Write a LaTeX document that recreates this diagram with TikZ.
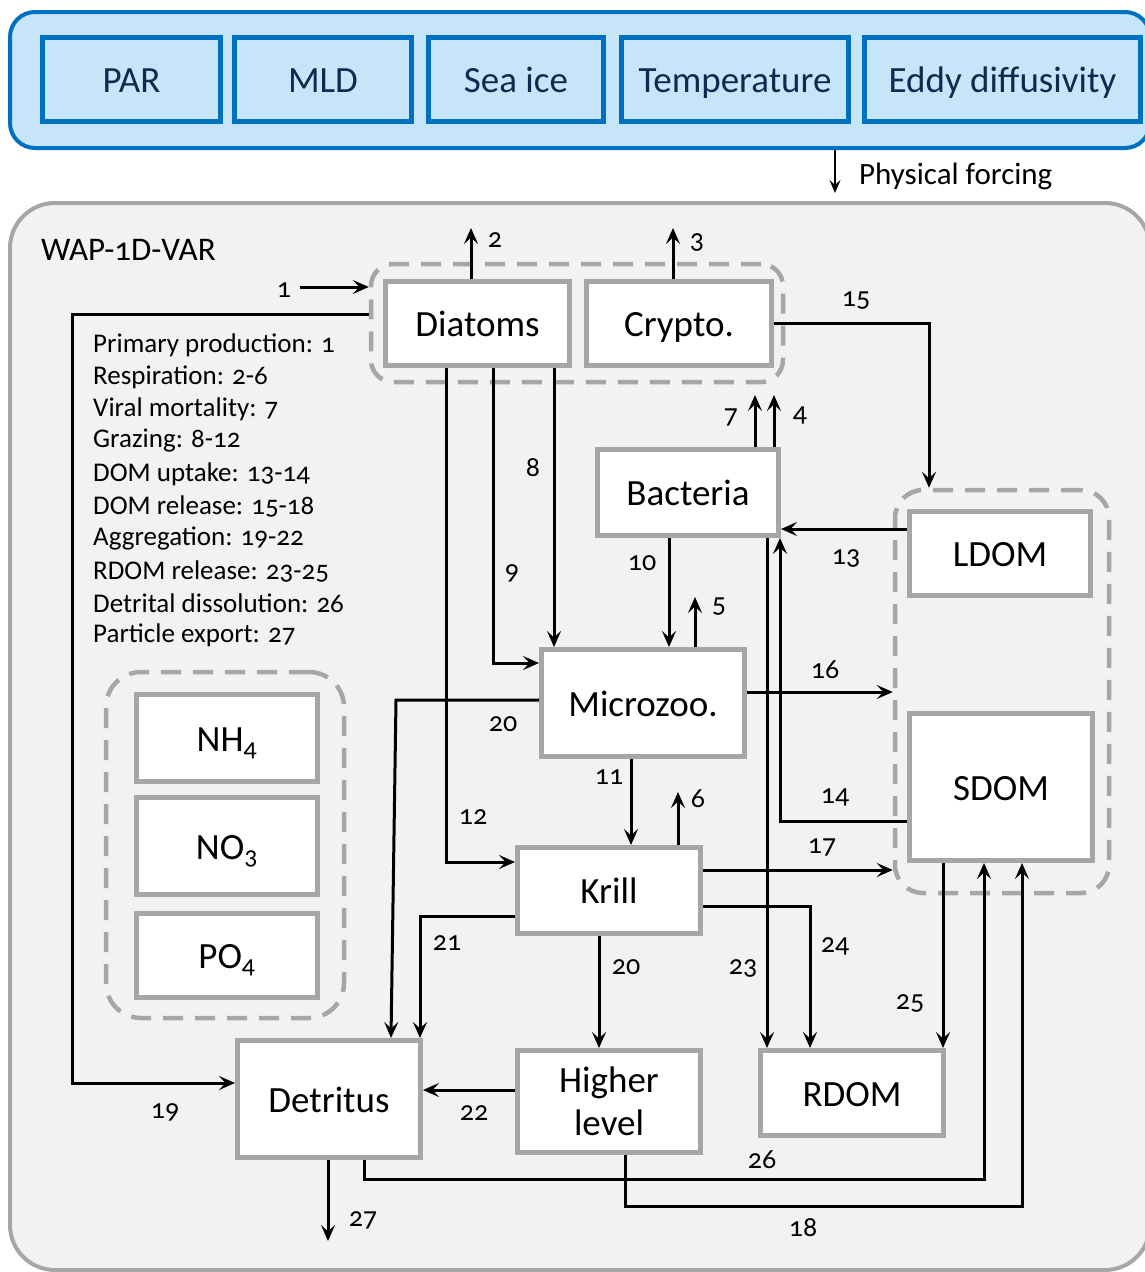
\documentclass[tikz,border=0pt]{standalone}
\usepackage{fontspec}
\setmainfont{Carlito}[Numbers=OldStyle]
\usetikzlibrary{arrows.meta}
\definecolor{bluebd}{HTML}{0070C0}
\definecolor{bluefill}{HTML}{C6E5F9}
\definecolor{navy}{HTML}{10294F}
\definecolor{graybd}{HTML}{A6A6A6}
\definecolor{grayfill}{HTML}{F2F2F2}
\begin{document}
\begin{tikzpicture}[x=1pt,y=-1pt,
 arr/.style={line width=3pt, -{Stealth[length=16pt,width=14pt,inset=6.5pt]}},
 fixh/.style={text height=28pt, text depth=2pt},
 box/.style={draw=graybd, fill=white, line width=5pt, inner sep=0pt, font=\fontsize{37}{42}\selectfont, align=center},
 fbox/.style={draw=bluebd, fill=bluefill, line width=5pt, inner sep=0pt, text=navy, font=\fontsize{37}{42}\selectfont, fixh},
 grp/.style={draw=graybd, line width=4.5pt, dash pattern=on 20pt off 12pt, rounded corners=22pt, inner sep=0pt},
 num/.style={font=\fontsize{28}{32}\selectfont, inner sep=0pt},
 leg/.style={font=\fontsize{27}{30}\selectfont, anchor=west, inner sep=0pt},
]
\useasboundingbox (0,0) rectangle (1145,1272);
\clip (0,0) rectangle (1145,1272);
% physical forcing panel
\node[draw=bluebd, fill=bluefill, line width=4pt, rounded corners=25pt, minimum width=1140pt, minimum height=136pt, inner sep=0pt] (forc) at (580,80) {};
\node[fbox, minimum width=178pt, minimum height=84pt] (par) at (131.5,79.5) {PAR};
\node[fbox, minimum width=177pt, minimum height=84pt] (mld) at (323,79.5) {MLD};
\node[fbox, minimum width=175pt, minimum height=84pt] (ice) at (516,79.5) {Sea ice};
\node[fbox, minimum width=227pt, minimum height=84pt] (tem) at (735,79.5) {Temperature};
\node[fbox, minimum width=276pt, minimum height=84pt] (edd) at (1002.5,79.5) {Eddy diffusivity};
\coordinate (pfend) at (835,193);
\draw[line width=2.5pt, -{Stealth[length=13pt,width=11pt,inset=5pt]}] (835,0 |- forc.south) -- (pfend);
\node[font=\fontsize{31}{36}\selectfont, anchor=west, inner sep=0pt] (pf) at (859,176) {Physical forcing};
% model panel
\node[draw=graybd, fill=grayfill, line width=4pt, rounded corners=45pt, minimum width=1140pt, minimum height=1067pt, inner sep=0pt] (model) at (580,736.5) {};
\node[font=\fontsize{33}{38}\selectfont, anchor=west, inner sep=0pt] (wap) at (41,250) {WAP-1D-VAR};
% groups
\node[grp, minimum width=412pt, minimum height=118pt] (phyto) at (577,323) {};
\node[grp, rounded corners=28pt, minimum width=214pt, minimum height=403pt] (domg) at (1002,691.5) {};
\node[grp, rounded corners=35pt, minimum width=238pt, minimum height=346pt] (nutg) at (225,845) {};
% boxes
\node[box, fixh, minimum width=184pt, minimum height=84pt] (dia) at (477.5,323.5) {Diatoms};
\node[box, fixh, minimum width=185pt, minimum height=84pt] (cry) at (679,323.5) {Crypto.};
\node[box, fixh, minimum width=181pt, minimum height=86pt] (bac) at (688,492.5) {Bacteria};
\node[box, fixh, minimum width=203pt, minimum height=107pt] (mic) at (643,703) {Microzoo.};
\node[box, fixh, minimum width=183pt, minimum height=86pt] (kri) at (609,890.5) {Krill};
\node[box, minimum width=183pt, minimum height=102pt, font=\fontsize{37}{43}\selectfont] (hig) at (609,1101.5) {Higher\\level};
\node[box, fixh, minimum width=183pt, minimum height=85pt] (rdom) at (852,1093) {RDOM};
\node[box, fixh, minimum width=183pt, minimum height=117pt] (det) at (329,1099) {Detritus};
\node[box, fixh, minimum width=181pt, minimum height=84pt] (ldom) at (1000,553.5) {LDOM};
\node[box, fixh, minimum width=183pt, minimum height=147pt] (sdom) at (1001,787) {SDOM};
\node[box, fixh, minimum width=181pt, minimum height=87pt] (nh) at (227,738) {NH\textsubscript{4}};
\node[box, fixh, minimum width=181pt, minimum height=97pt] (no) at (227,846) {NO\textsubscript{3}};
\node[box, fixh, minimum width=181pt, minimum height=84pt] (po) at (227,955.5) {PO\textsubscript{4}};
% legend
\node[leg] (l1) at (93,345) {Primary production: 1};
\node[leg] (l2) at (93,377) {Respiration: 2-6};
\node[leg] (l3) at (93,409) {Viral mortality: 7};
\node[leg] (l4) at (93,441) {Grazing: 8-12};
\node[leg] (l5) at (93,474) {DOM uptake: 13-14};
\node[leg] (l6) at (93,506) {DOM release: 15-18};
\node[leg] (l7) at (93,538) {Aggregation: 19-22};
\node[leg] (l8) at (93,571) {RDOM release: 23-25};
\node[leg] (l9) at (93,603) {Detrital dissolution: 26};
\node[leg] (l10) at (93,635) {Particle export: 27};
% free ends
\coordinate (s1) at (300,287);
\coordinate (e2) at (471,228);
\coordinate (e3) at (673,228);
\coordinate (e7) at (755,395);
\coordinate (e4) at (774,395);
\coordinate (e5) at (695,597);
\coordinate (e6) at (678,792);
\coordinate (e27) at (328,1241);
% connectors
\draw[arr] (s1) -- (phyto.west |- s1);
\draw[arr] (471,0 |- dia.north) -- (e2);
\draw[arr] (673,0 |- cry.north) -- (e3);
\draw[arr] (phyto.west |- 0,314) -- (72,314) -- (72,1083) -- (det.west |- 0,1083);
\draw[arr] (446,0 |- dia.south) -- (446,862) -- (kri.west |- 0,862);
\draw[arr] (493,0 |- dia.south) -- (493,663) -- (mic.west |- 0,663);
\draw[arr] (554,0 |- dia.south) -- (554,0 |- mic.north);
\draw[arr] (cry.east |- 0,323) -- (929,323) -- (929,0 |- domg.north);
\draw[arr] (755,0 |- bac.north) -- (e7);
\draw[arr] (774,0 |- bac.north) -- (e4);
\draw[arr] (669,0 |- bac.south) -- (669,0 |- mic.north);
\draw[arr] (695,0 |- mic.north) -- (e5);
\draw[arr] (ldom.west |- 0,529) -- (bac.east |- 0,529);
\draw[arr] (sdom.west |- 0,821) -- (780,821) -- (780,0 |- bac.south);
\draw[arr] (767,0 |- bac.south) -- (767,0 |- rdom.north);
\draw[arr] (mic.east |- 0,692) -- (domg.west |- 0,692);
\draw[arr] (mic.west |- 0,700) -- (396,700) -- (391,0 |- det.north);
\draw[arr] (631,0 |- mic.south) -- (631,0 |- kri.north);
\draw[arr] (678,0 |- kri.north) -- (e6);
\draw[arr] (kri.east |- 0,870) -- (domg.west |- 0,870);
\draw[arr] (kri.east |- 0,906) -- (810,906) -- (810,0 |- rdom.north);
\draw[arr] (kri.west |- 0,916) -- (420,916) -- (420,0 |- det.north);
\draw[arr] (599,0 |- kri.south) -- (599,0 |- hig.north);
\draw[arr] (943,0 |- sdom.south) -- (943,0 |- rdom.north);
\draw[arr] (hig.west |- 0,1090) -- (det.east |- 0,1090);
\draw[arr] (328,0 |- det.south) -- (e27);
\draw[arr] (364,0 |- det.south) -- (364,1179) -- (984,1179) -- (984,0 |- sdom.south);
\draw[arr] (625,0 |- hig.south) -- (625,1206) -- (1022,1206) -- (1022,0 |- sdom.south);
% numbers
\node[num] (n1) at (284,290) {1};
\node[num] (n2) at (495,240) {2};
\node[num] (n3) at (697,242) {3};
\node[num] (n15) at (856,301) {15};
\node[num] (n7) at (731,417) {7};
\node[num] (n4) at (800,415) {4};
\node[num] (n8) at (533,468) {8};
\node[num] (n9) at (512,573) {9};
\node[num] (n10) at (642,563) {10};
\node[num] (n5) at (719,607) {5};
\node[num] (n13) at (846,558) {13};
\node[num] (n16) at (825,670) {16};
\node[num] (n20a) at (503,724) {20};
\node[num] (n11) at (609,777) {11};
\node[num] (n6) at (698,799) {6};
\node[num] (n14) at (835,797) {14};
\node[num] (n12) at (473,817) {12};
\node[num] (n17) at (822,847) {17};
\node[num] (n21) at (447,943) {21};
\node[num] (n24) at (835,946) {24};
\node[num] (n20b) at (626,967) {20};
\node[num] (n23) at (743,968) {23};
\node[num] (n25) at (910,1003) {25};
\node[num] (n19) at (165,1112) {19};
\node[num] (n22) at (474,1113) {22};
\node[num] (n26) at (762,1160) {26};
\node[num] (n18) at (803,1228) {18};
\node[num] (n27) at (363,1220) {27};
\end{tikzpicture}
\end{document}
